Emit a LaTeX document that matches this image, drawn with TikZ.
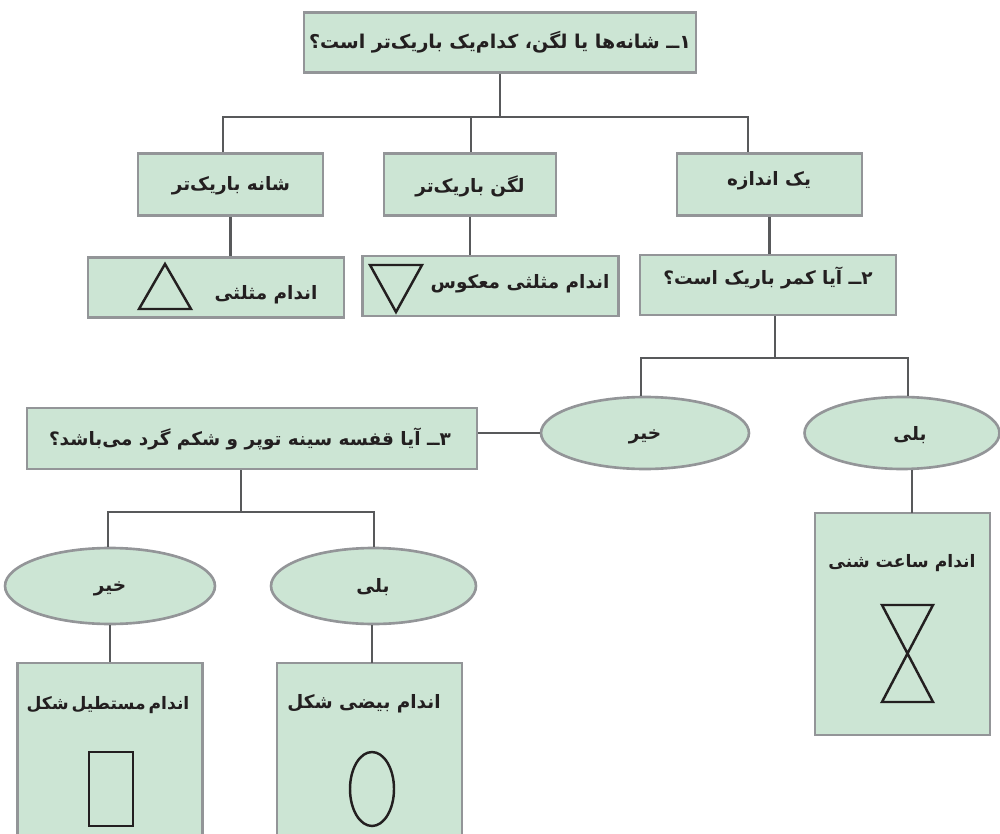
\documentclass[tikz,border=0pt]{standalone}
\usepackage{fontspec}
\usetikzlibrary{shapes.geometric}
\TeXXeTstate=1
\newfontfamily\arabicfont[Script=Arabic,Scale=1.05]{DejaVu Sans Bold}
\newcommand{\fa}[1]{{\arabicfont\beginR #1\endR}}
\definecolor{boxgreen}{HTML}{CCE5D4}
\definecolor{boxgray}{HTML}{939598}
\definecolor{linegray}{HTML}{58595B}
\definecolor{shapeblack}{HTML}{231F20}
\tikzset{
    qbox/.style={draw=boxgray, fill=boxgreen, line width=1.5pt, inner sep=0pt},
    qoval/.style={qbox, ellipse},
    label text/.style={text=shapeblack, inner sep=0pt},
    big text/.style={label text, font=\fontsize{10.3}{13}\selectfont},
    small text/.style={label text, font=\fontsize{9.3}{12}\selectfont},
    link/.style={draw=linegray, line width=1.6pt},
    body/.style={draw=shapeblack, line width=1.4pt},
}
\begin{document}
\begin{tikzpicture}[x=0.02cm, y=-0.02cm]
    \useasboundingbox (0,0) rectangle (1000,834);

    % Boxes.
    \node[qbox, minimum width=7.84cm, minimum height=1.2cm] (qone) at (500,42.5) {};
    \node[qbox, minimum width=3.7cm, minimum height=1.24cm] (shana) at (230.5,184.5) {};
    \node[qbox, minimum width=3.44cm, minimum height=1.24cm] (lagan) at (470,184.5) {};
    \node[qbox, minimum width=3.7cm, minimum height=1.24cm] (yek) at (769.5,184.5) {};
    \node[qbox, minimum width=5.12cm, minimum height=1.2cm] (mosalasi) at (216,287.5) {};
    \node[qbox, minimum width=5.12cm, minimum height=1.2cm] (makus) at (490.5,286) {};
    \node[qbox, minimum width=5.12cm, minimum height=1.2cm] (qtwo) at (768,285) {};
    \node[qbox, minimum width=9cm, minimum height=1.22cm] (qthree) at (252,438.5) {};
    \node[qbox, minimum width=3.5cm, minimum height=4.44cm] (saat) at (902.5,624) {};
    \node[qbox, minimum width=3.7cm, minimum height=3.6cm] (mostatil) at (110,753) {};
    \node[qbox, minimum width=3.7cm, minimum height=3.6cm] (beyzi) at (369.5,753) {};

    % Ovals.
    \node[qoval, minimum width=4.16cm, minimum height=1.44cm] (kheyrtop) at (645,433) {};
    \node[qoval, minimum width=3.9cm, minimum height=1.44cm] (balitop) at (902,433) {};
    \node[qoval, minimum width=4.2cm, minimum height=1.52cm] (kheyrlow) at (110,586) {};
    \node[qoval, minimum width=4.1cm, minimum height=1.52cm] (balilow) at (373.5,586) {};

    % Bus ends.
    \coordinate (busoneL) at (223,117);
    \coordinate (busoneM) at (500,117);
    \coordinate (busoneC) at (471,117);
    \coordinate (busoneR) at (748,117);
    \coordinate (bustwoL) at (641,358);
    \coordinate (bustwoM) at (775,358);
    \coordinate (bustwoR) at (908,358);
    \coordinate (busthreeL) at (108,512);
    \coordinate (busthreeM) at (241,512);
    \coordinate (busthreeR) at (374,512);
    \coordinate (saatin) at (912,513);
    \coordinate (beyziin) at (372,663);

    % Links.
    \draw[link] (qone.south -| busoneM) -- (busoneM);
    \draw[link] (shana.north -| busoneL) |- (busoneR) -- (yek.north -| busoneR);
    \draw[link] (busoneC) -- (lagan.north -| busoneC);
    \draw[link] (shana.south) -- (mosalasi.north -| shana.south);
    \draw[link] (lagan.south) -- (makus.north -| lagan.south);
    \draw[link] (yek.south) -- (qtwo.north -| yek.south);
    \draw[link] (qtwo.south -| bustwoM) -- (bustwoM);
    \draw[link] (kheyrtop.north -| bustwoL) |- (bustwoR) -- (balitop.north -| bustwoR);
    \draw[link] (kheyrtop.west) -- (qthree.east |- kheyrtop.west);
    \draw[link] (balitop.south -| saatin) -- (saatin);
    \draw[link] (qthree.south -| busthreeM) -- (busthreeM);
    \draw[link] (kheyrlow.north -| busthreeL) |- (busthreeR) -- (balilow.north -| busthreeR);
    \draw[link] (kheyrlow.south) -- (mostatil.north -| kheyrlow.south);
    \draw[link] (balilow.south -| beyziin) -- (beyziin);

    % Labels.
    \node[big text] (tone) at (500,42) {\fa{۱ــ شانه^^^^200cها یا لگن، کدام^^^^200cیک باریک^^^^200cتر است؟}};
    \node[label text] (tshana) at (231,186) {\fa{شانه باریک^^^^200cتر}};
    \node[label text] (tlagan) at (470,186) {\fa{لگن باریک^^^^200cتر}};
    \node[label text] (tyek) at (769,181) {\fa{یک اندازه}};
    \node[label text] (tmosalasi) at (266,295) {\fa{اندام مثلثی}};
    \node[label text] (tmakus) at (520,284) {\fa{اندام مثلثی معکوس}};
    \node[label text] (ttwo) at (768,278) {\fa{۲ــ آیا کمر باریک است؟}};
    \node[label text] (tthree) at (250,439) {\fa{۳ــ آیا قفسه سینه توپر و شکم گرد می^^^^200cباشد؟}};
    \node[label text] (tkheyrtop) at (645,437) {\fa{خیر}};
    \node[label text] (tbalitop) at (910,435) {\fa{بلی}};
    \node[label text] (tkheyrlow) at (110,589) {\fa{خیر}};
    \node[label text] (tbalilow) at (373,587) {\fa{بلی}};
    \node[small text] (tsaat) at (902,563) {\fa{اندام ساعت شنی}};
    \node[small text] (tmostatil) at (108,705) {\fa{اندام\,مستطیل\,شکل}};
    \node[label text] (tbeyzi) at (364,704) {\fa{اندام بیضی شکل}};

    % Body shapes.
    \draw[body] (165,264) -- (191,309) -- (139,309) -- cycle;
    \draw[body] (370,265) -- (422,265) -- (396,312) -- cycle;
    \draw[body] (882,605) -- (933,605) -- (882,702) -- (933,702) -- cycle;
    \draw[body] (89,752) rectangle (133,826);
    \draw[body] (372,789) ellipse (22 and 37);
\end{tikzpicture}
\end{document}
